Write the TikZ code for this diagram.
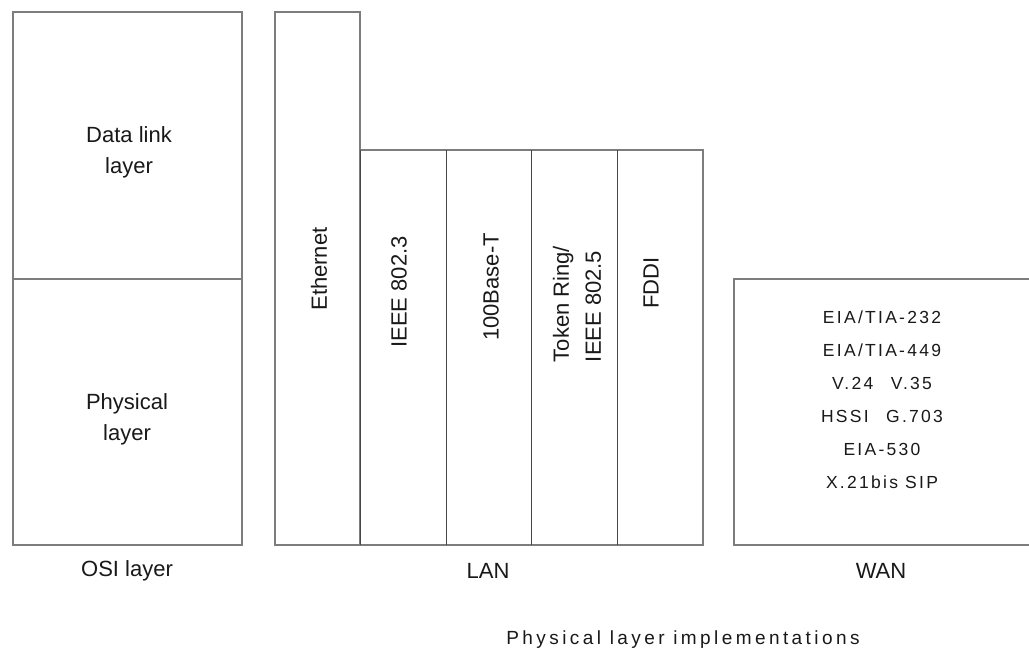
\documentclass[tikz,border=0pt]{standalone}
\usepackage{fontspec}
\setmainfont{Liberation Sans}
\newfontfamily\widefont[LetterSpace=13]{Liberation Sans}
\newfontfamily\widerfont[LetterSpace=18]{Liberation Sans}
\definecolor{outerline}{RGB}{125,125,125}
\definecolor{innerline}{RGB}{70,70,70}
\definecolor{txt}{RGB}{25,25,25}
\tikzset{
  outerbox/.style={draw=outerline, line width=1.5pt},
  innerdiv/.style={draw=innerline, line width=1pt},
  lbl/.style={text=txt, inner sep=0pt, align=center, font=\fontsize{22}{31}\selectfont},
  vlbl/.style={text=txt, inner sep=0pt, rotate=90, align=left, font=\fontsize{22}{32}\selectfont},
  wanlbl/.style={text=txt, inner sep=0pt, align=center, font=\widefont\fontsize{17.5}{33}\selectfont},
  captionlbl/.style={text=txt, inner sep=0pt, font=\widerfont\fontsize{19}{22}\selectfont}
}
\begin{document}
\begin{tikzpicture}[x=1pt,y=-1pt]
\useasboundingbox[fill=white] (0,0) rectangle (1029,652);
% OSI box
\draw[outerbox] (13,12) rectangle (242,545);
\draw[outerbox] (13,279) -- (242,279);
% Ethernet box
\draw[outerbox] (275,12) rectangle (360,545);
% LAN boxes
\draw[outerbox] (360,150) -- (703,150) -- (703,545) -- (360,545);
\draw[innerdiv] (360,150) -- (360,545);
\draw[innerdiv] (446,150) -- (446,545);
\draw[innerdiv] (531,150) -- (531,545);
\draw[innerdiv] (617,150) -- (617,545);
% WAN box
\draw[outerbox] (1045,279) -- (734,279) -- (734,545) -- (1045,545);

% OSI texts
\node[lbl] (datalink) at (129,152) {Data link\\layer};
\node[lbl] (physical) at (127,419) {Physical\\layer};
% LAN vertical texts
\node[vlbl] (ethernet) at (319,269) {Ethernet};
\node[vlbl] (ieee3) at (399,292) {IEEE 802.3};
\node[vlbl] (base) at (491,287) {100Base-T};
\node[vlbl] (token) at (577,304) {Token Ring/\\IEEE 802.5};
\node[vlbl] (fddi) at (651,283) {FDDI};
% WAN text
\node[wanlbl] (wantext) at (882,400) {EIA/TIA-232\\EIA/TIA-449\\V.24\quad V.35\\HSSI\quad G.703\\EIA-530\\X.21bis SIP};
% captions
\node[lbl] (osicap) at (127,571) {OSI layer};
\node[lbl] (lancap) at (488,571) {LAN};
\node[lbl] (wancap) at (881,571) {WAN};
\node[captionlbl] (implcap) at (683,640) {Physical layer implementations};
\end{tikzpicture}
\end{document}
